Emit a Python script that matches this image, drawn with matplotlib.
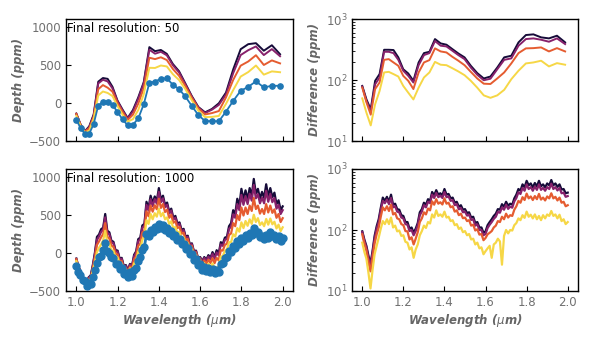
import numpy as np
import matplotlib
matplotlib.use("Agg")
import matplotlib.pyplot as plt

# ---------------- data: resolution 50 ----------------
wl_50 = [1.0000, 1.0204, 1.0412, 1.0625, 1.0842, 1.1063, 1.1289, 1.1519, 1.1754,
         1.1994, 1.2238, 1.2488, 1.2743, 1.3003, 1.3268, 1.3539, 1.3815, 1.4097,
         1.4385, 1.4678, 1.4978, 1.5283, 1.5595, 1.5913, 1.6238, 1.6570, 1.6908,
         1.7253, 1.7605, 1.7964, 1.8331, 1.8705, 1.9086, 1.9476, 1.9873]

data_50 = [-220, -330, -405, -405, -275, -35, 13, 5, -25, -120, -215, -295, -288,
           -203, -18, 262, 280, 315, 322, 238, 180, 84, -40, -160, -238, -240,
           -240, -115, 27, 158, 210, 283, 203, 224, 224]

# difference of each model relative to the data (ppm)
diff_a_50 = [80, 48, 33, 97, 125, 313, 313, 310, 235, 150, 128, 97, 194, 276, 290,
             469, 398, 379, 321, 272, 235, 171, 130, 106, 114, 160, 235, 250, 414,
             546, 560, 500, 481, 532, 414]
diff_b_50 = [78, 45, 31, 85, 110, 290, 290, 276, 214, 142, 117, 91, 175, 256, 276,
             435, 365, 355, 302, 256, 220, 160, 122, 99, 105, 150, 214, 226, 365,
             469, 481, 457, 424, 481, 388]
diff_c_50 = [75, 43, 27, 71, 91, 214, 220, 194, 171, 117, 97, 71, 133, 194, 212,
             330, 294, 283, 240, 207, 175, 136, 106, 87, 86, 106, 133, 187, 276,
             330, 333, 342, 294, 333, 294]
diff_d_50 = [50, 29, 18, 40, 66, 133, 136, 125, 114, 80, 62, 48, 75, 110, 133,
             198, 178, 175, 156, 138, 120, 97, 75, 56, 51, 56, 69, 103, 142, 187,
             194, 207, 167, 189, 178]

# ---------------- data: resolution 1000 ----------------
wl_1000 = [1.00, 1.01, 1.02, 1.03, 1.04, 1.05, 1.06, 1.07, 1.08, 1.09,
           1.10, 1.11, 1.12, 1.13, 1.14, 1.15, 1.16, 1.17, 1.18, 1.19,
           1.20, 1.21, 1.22, 1.23, 1.24, 1.25, 1.26, 1.27, 1.28, 1.29,
           1.30, 1.31, 1.32, 1.33, 1.34, 1.35, 1.36, 1.37, 1.38, 1.39,
           1.40, 1.41, 1.42, 1.43, 1.44, 1.45, 1.46, 1.47, 1.48, 1.49,
           1.50, 1.51, 1.52, 1.53, 1.54, 1.55, 1.56, 1.57, 1.58, 1.59,
           1.60, 1.61, 1.62, 1.63, 1.64, 1.65, 1.66, 1.67, 1.68, 1.69,
           1.70, 1.71, 1.72, 1.73, 1.74, 1.75, 1.76, 1.77, 1.78, 1.79,
           1.80, 1.81, 1.82, 1.83, 1.84, 1.85, 1.86, 1.87, 1.88, 1.89,
           1.90, 1.91, 1.92, 1.93, 1.94, 1.95, 1.96, 1.97, 1.98, 1.99, 2.00]

data_1000 = [-170, -250, -290, -360, -375, -430, -400, -410, -310, -230,
             -130, -60, -40, 40, 130, 30, 0, -60, -70, -140,
             -140, -210, -200, -280, -270, -320, -250, -300, -220, -200,
             -100, -60, 40, 80, 250, 220, 300, 270, 340, 310,
             380, 320, 360, 300, 320, 260, 290, 220, 230, 170,
             180, 110, 120, 50, 60, -20, -10, -90, -80, -160,
             -150, -230, -190, -240, -200, -250, -210, -270, -230, -250,
             -150, -130, -70, -50, 20, 10, 90, 70, 150, 120,
             200, 160, 240, 200, 260, 230, 330, 260, 280, 210,
             220, 180, 240, 200, 270, 220, 230, 180, 220, 160, 200]

diff_a_1000 = [95, 70, 55, 38, 28, 45, 80, 115, 150, 230,
               340, 300, 350, 290, 380, 260, 270, 220, 215, 175,
               170, 135, 135, 105, 110, 90, 105, 130, 195, 220,
               280, 260, 320, 300, 420, 370, 450, 380, 400, 370,
               470, 380, 390, 330, 340, 280, 290, 240, 255, 215,
               220, 190, 195, 160, 165, 130, 135, 110, 110, 90,
               95, 120, 135, 150, 170, 185, 220, 215, 265, 240,
               290, 250, 270, 260, 330, 380, 470, 440, 560, 500,
               640, 540, 580, 500, 590, 520, 640, 520, 560, 500,
               580, 540, 660, 540, 580, 510, 560, 460, 470, 400, 410]
diff_b_1000 = [92, 66, 52, 35, 26, 42, 72, 105, 135, 210,
               300, 275, 315, 265, 335, 235, 245, 200, 195, 160,
               155, 125, 122, 96, 100, 82, 96, 120, 175, 200,
               255, 235, 290, 275, 380, 335, 405, 345, 365, 335,
               420, 345, 355, 300, 310, 255, 265, 218, 230, 195,
               200, 172, 178, 146, 150, 118, 124, 100, 100, 82,
               86, 108, 122, 135, 152, 165, 198, 192, 235, 215,
               260, 222, 242, 232, 295, 335, 415, 390, 490, 440,
               560, 470, 505, 440, 515, 455, 560, 455, 490, 440,
               505, 470, 575, 470, 505, 445, 490, 400, 410, 350, 360]
diff_c_1000 = [85, 60, 46, 30, 21, 35, 60, 85, 110, 165,
               235, 210, 245, 205, 260, 180, 190, 155, 150, 125,
               120, 96, 95, 70, 76, 58, 72, 92, 135, 155,
               195, 180, 225, 210, 295, 260, 320, 270, 285, 262,
               330, 270, 280, 236, 245, 200, 210, 175, 185, 156,
               160, 140, 145, 118, 122, 98, 103, 84, 86, 68,
               74, 85, 90, 96, 110, 118, 140, 135, 165, 150,
               185, 160, 175, 170, 215, 245, 300, 280, 345, 310,
               395, 330, 355, 310, 360, 320, 390, 315, 340, 305,
               355, 330, 400, 330, 350, 305, 340, 280, 290, 245, 255]
diff_d_1000 = [62, 44, 34, 20, 11, 22, 40, 55, 75, 105,
               140, 125, 150, 125, 160, 110, 118, 95, 98, 80,
               82, 64, 62, 48, 52, 35, 48, 58, 82, 96,
               118, 108, 135, 128, 180, 160, 210, 170, 180, 165,
               200, 160, 165, 140, 145, 120, 125, 104, 110, 92,
               96, 82, 86, 70, 72, 58, 62, 50, 52, 40,
               45, 50, 55, 35, 58, 62, 72, 65, 27, 80,
               100, 88, 100, 98, 120, 130, 155, 145, 175, 158,
               200, 165, 178, 155, 180, 150, 170, 145, 175, 155,
               180, 170, 205, 170, 180, 155, 178, 140, 150, 125, 135]

panel_titles = ["Final resolution: 50", "Final resolution: 1000"]
model_colors = [plt.cm.inferno(v) for v in (0.10, 0.37, 0.63, 0.90)]
data_color = "#1f77b4"
label_gray = "#666666"
tick_gray = "#707070"

# ---------------- figure ----------------
fig = plt.figure(figsize=(5.95, 3.40), dpi=100)
W, H = 595.0, 340.0

def add_ax(x0, y0, x1, y1):
    return fig.add_axes([x0 / W, 1 - y1 / H, (x1 - x0) / W, (y1 - y0) / H])

ax_tl = add_ax(66, 19, 293, 141)
ax_tr = add_ax(352, 19, 578, 141)
ax_bl = add_ax(66, 169, 293, 291)
ax_br = add_ax(352, 169, 578, 291)

rows = [
    (ax_tl, ax_tr, wl_50, data_50, [diff_a_50, diff_b_50, diff_c_50, diff_d_50], True),
    (ax_bl, ax_br, wl_1000, data_1000, [diff_a_1000, diff_b_1000, diff_c_1000, diff_d_1000], False),
]

for i, (axl, axr, wl, dat, diffs, low) in enumerate(rows):
    wl = np.asarray(wl)
    dat = np.asarray(dat, dtype=float)
    for d, c in zip(diffs, model_colors):
        d = np.asarray(d, dtype=float)
        axl.plot(wl, dat + d, color=c, lw=1.4 if low else 1.6)
        axr.plot(wl, d, color=c, lw=1.4 if low else 1.6)
    axl.plot(wl, dat, color=data_color, lw=1.3 if low else 2.0, marker="o",
             markersize=3.8 if low else 5.0, zorder=5)
    axl.set_ylim(-500, 1100)
    axl.set_yticks([-500, 0, 500, 1000])
    axr.set_yscale("log")
    axr.set_ylim(10, 1000)
    axl.text(0.006, 0.975, panel_titles[i], transform=axl.transAxes,
             ha="left", va="top", fontsize=8.5, color="black")
    axl.set_ylabel("Depth (ppm)", fontsize=8.5, fontweight="bold",
                   fontstyle="italic", color=label_gray, labelpad=3)
    axr.set_ylabel("Difference (ppm)", fontsize=8.5, fontweight="bold",
                   fontstyle="italic", color=label_gray, labelpad=3)

for ax in (ax_tl, ax_tr, ax_bl, ax_br):
    ax.set_xlim(0.95, 2.05)
    ax.set_xticks([1.0, 1.2, 1.4, 1.6, 1.8, 2.0])
    ax.tick_params(axis="both", which="both", direction="in", colors="black",
                   labelcolor=tick_gray, labelsize=8.5, top=False, right=False)
    ax.tick_params(axis="both", which="major", length=3.5, width=0.8)
    ax.tick_params(axis="both", which="minor", length=2, width=0.6)
    for s in ax.spines.values():
        s.set_linewidth(1.0)
        s.set_color("black")

for ax in (ax_tl, ax_tr):
    ax.tick_params(axis="x", labelbottom=False)

for ax in (ax_bl, ax_br):
    ax.set_xticklabels(["1.0", "1.2", "1.4", "1.6", "1.8", "2.0"])
    ax.set_xlabel(r"Wavelength ($\mu$m)", fontsize=8.5, fontweight="bold",
                  fontstyle="italic", color=label_gray, labelpad=2)

fig.savefig("out.png", dpi=100)
